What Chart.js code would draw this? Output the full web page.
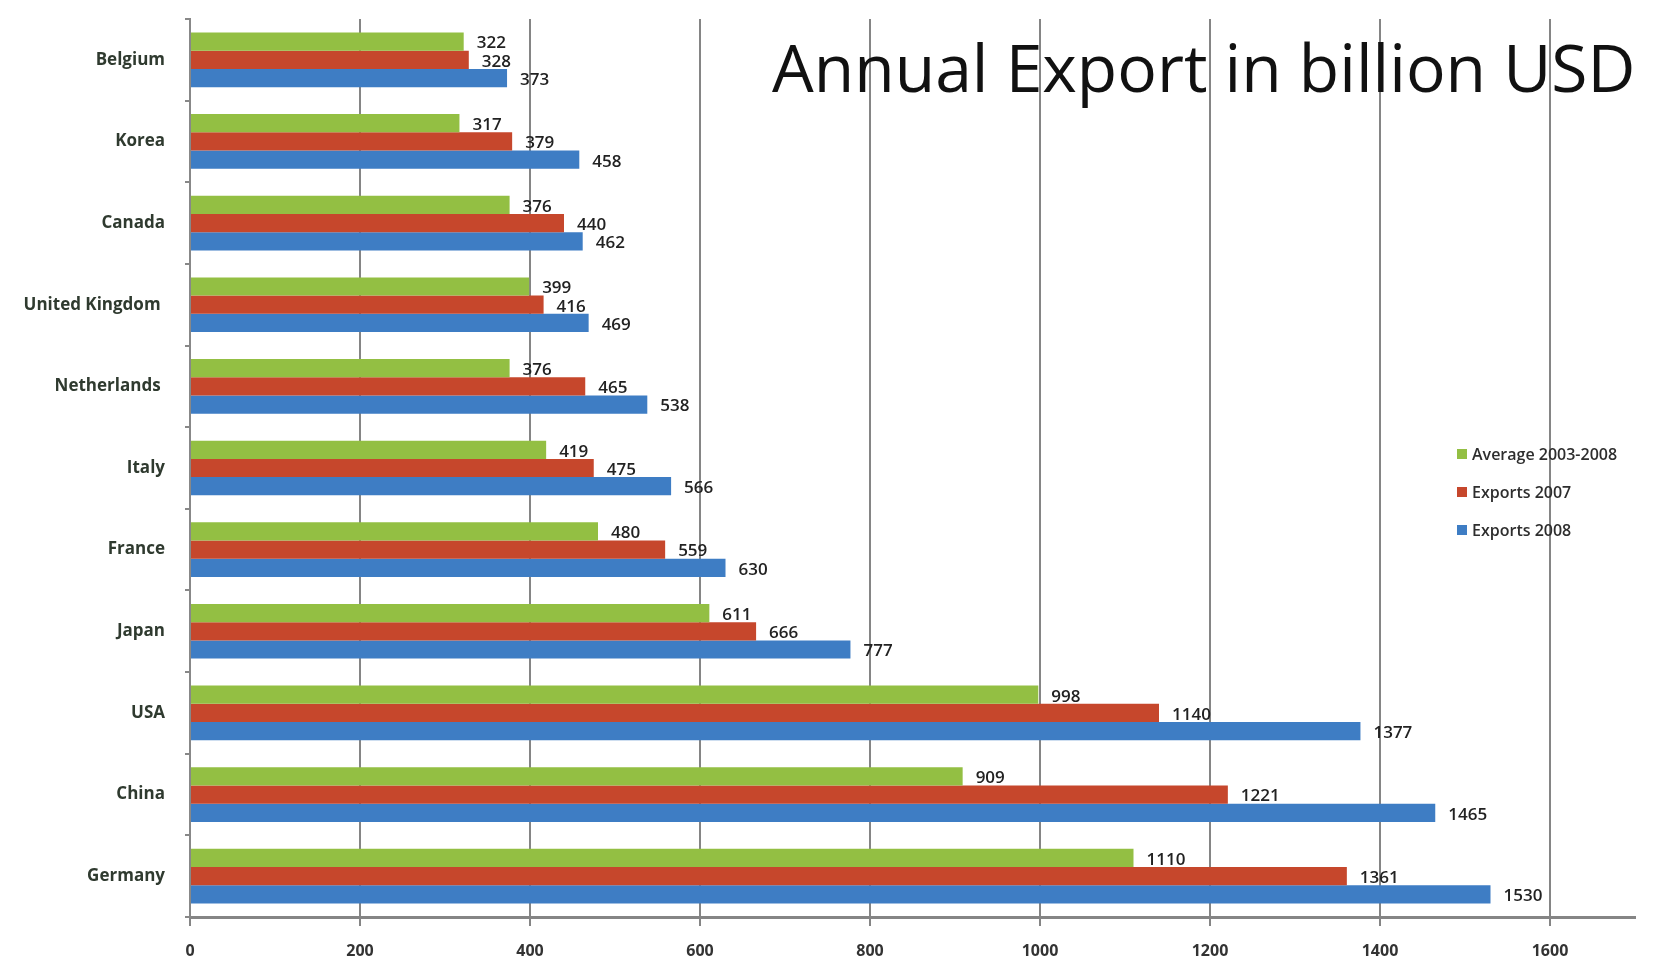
<!DOCTYPE html>
<html>
<head>
<meta charset="utf-8">
<script src="https://cdn.jsdelivr.net/npm/chart.js@4.4.1/dist/chart.umd.min.js"></script>
<style>
  html, body { margin: 0; padding: 0; background: #fff; }
  #wrap { position: relative; width: 1658px; height: 961px; }
  #title {
    position: absolute; left: 772px; top: 33px;
    font-family: "Open Sans", sans-serif; font-size: 66px; color: #111;
    white-space: nowrap; line-height: 1;
  }
  #legend {
    position: absolute; left: 1457px; top: 443px;
    font-family: "Open Sans", sans-serif; font-size: 16px; font-weight: 600; color: #2e2e2e;
  }
  #legend div { height: 38px; display: flex; align-items: flex-start; }
  #legend span.box { display: inline-block; width: 10px; height: 10px; margin: 6px 5px 0 0; }
</style>
</head>
<body>
<div id="wrap">
  <canvas id="chart" width="1658" height="961"></canvas>
  <div id="title">Annual Export in billion USD</div>
  <div id="legend"></div>
</div>
<script>
// countries, top to bottom
var countries = ["Belgium", "Korea", "Canada", "United Kingdom ", "Netherlands ", "Italy", "France", "Japan", "USA", "China", "Germany"]

var average0308 = [322, 317, 376, 399, 376, 419, 480, 611, 998, 909, 1110]
var exports2007 = [328, 379, 440, 416, 465, 475, 559, 666, 1140, 1221, 1361]
var exports2008 = [373, 458, 462, 469, 538, 566, 630, 777, 1377, 1465, 1530]

var seriesNames = ["Average  2003-2008", "Exports 2007", "Exports 2008"]
var seriesColors = ['#93bf43', '#c6472c', '#3e7dc4']
var xTickValues = [0, 200, 400, 600, 800, 1000, 1200, 1400, 1600]

// value labels to the right of each bar
var barLabels = {
  id: 'barLabels',
  afterDatasetsDraw(chart) {
    var ctx = chart.ctx
    ctx.save()
    ctx.font = '600 17px "Open Sans", sans-serif'
    ctx.fillStyle = '#222'
    ctx.textBaseline = 'middle'
    ctx.textAlign = 'left'
    chart.data.datasets.forEach((ds, i) => {
      chart.getDatasetMeta(i).data.forEach((bar, j) => {
        ctx.fillText(ds.data[j], bar.x + 13, bar.y + 2)
      })
    })
    ctx.restore()
  }
}

var ctx = document.getElementById('chart').getContext('2d')
var chart = new Chart(ctx, {
    type: 'bar',
    data: {
        labels: countries,
        datasets: [
          { label: seriesNames[0], data: average0308, backgroundColor: seriesColors[0] },
          { label: seriesNames[1], data: exports2007, backgroundColor: seriesColors[1] },
          { label: seriesNames[2], data: exports2008, backgroundColor: seriesColors[2] }
        ]
    },
    options: {
        indexAxis: 'y',
        responsive: false,
        animation: false,
        layout: { padding: { top: 19, right: 23, left: 0, bottom: 0 } },
        datasets: { bar: { barPercentage: 1.0, categoryPercentage: 0.67 } },
        plugins: {
          legend: { display: false },
          tooltip: { enabled: false }
        },
        scales: {
          x: {
            min: 0,
            max: 1700,
            afterBuildTicks: s => { s.ticks = xTickValues.map(v => ({ value: v })) },
            afterFit: s => { s.height = 44 },
            grid: { color: '#858585', lineWidth: 2, tickLength: 9, drawOnChartArea: true },
            border: { color: '#858585', width: 3 },
            ticks: {
              color: '#333',
              font: { family: '"Liberation Sans Narrow", "Open Sans", sans-serif', size: 16, weight: 'bold' },
              padding: 16,
              callback: v => String(v)
            }
          },
          y: {
            afterFit: s => { s.width = 190; s.paddingTop = 0; s.paddingBottom = 0 },
            grid: { display: true, drawOnChartArea: false, offset: true, tickLength: 5, color: '#888', lineWidth: 2 },
            border: { color: '#888', width: 2 },
            ticks: { color: '#2f3a2f', font: { family: 'Open Sans', size: 17, weight: 'bold' }, padding: 20 }
          }
        }
    },
    plugins: [barLabels]
});

// legend, built from the series
var lg = document.getElementById('legend')
seriesNames.forEach((n, i) => {
  var row = document.createElement('div')
  row.innerHTML = '<span class="box" style="background:' + seriesColors[i] + '"></span>' + n
  lg.appendChild(row)
})
</script>
</body>
</html>
